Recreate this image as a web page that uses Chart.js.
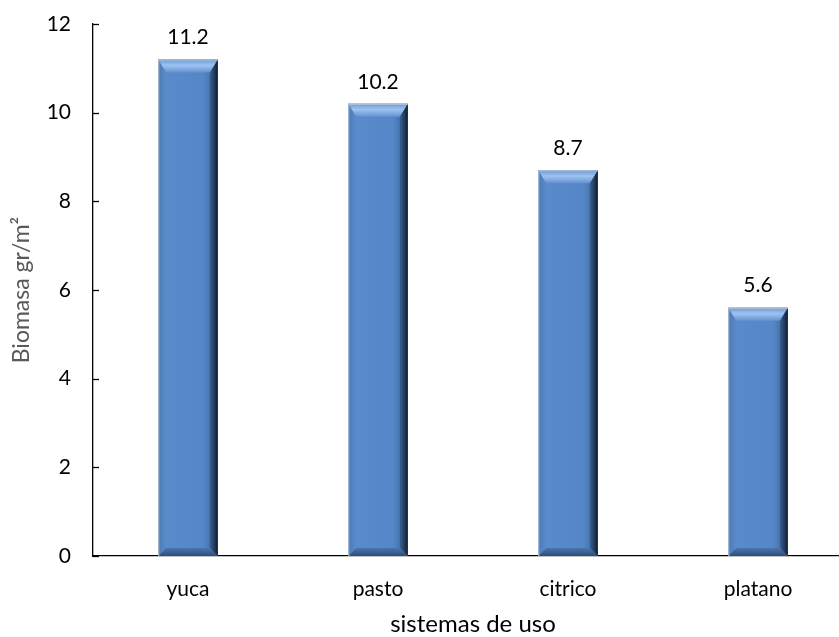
<!DOCTYPE html>
<html>
<head>
<meta charset="utf-8">
<script src="https://cdn.jsdelivr.net/npm/chart.js@4"></script>
<style>
  html, body { margin: 0; padding: 0; background: #fff; overflow: hidden; }
  #wrap { width: 853px; height: 637px; }
</style>
</head>
<body>
<div id="wrap"><canvas id="chart"></canvas></div>
<script>
const categories = ["yuca", "pasto", "citrico", "platano"];
const biomasa = [11.2, 10.2, 8.7, 5.6];
const yTicks = [0, 2, 4, 6, 8, 10, 12];

const FONT = "Lato, 'Open Sans', sans-serif";

// bevel look like the office "circle" bevel
const bevelPlugin = {
  id: "bevel",
  afterDatasetsDraw(chart) {
    const ctx = chart.ctx;
    const meta = chart.getDatasetMeta(0);
    meta.data.forEach((bar, i) => {
      const l = bar.x - bar.width / 2, r = bar.x + bar.width / 2;
      const t = bar.y, b = bar.base;
      const bt = 13, bb = 8, bs = 8;
      ctx.save();
      // body
      let g = ctx.createLinearGradient(l, 0, r, 0);
      g.addColorStop(0, "#5a8bcb");
      g.addColorStop(0.75, "#5587c8");
      g.addColorStop(1, "#3b6398");
      ctx.fillStyle = g;
      ctx.fillRect(l, t, r - l, b - t);
      // left side
      ctx.beginPath();
      ctx.moveTo(l, t); ctx.lineTo(l + bs, t + bt); ctx.lineTo(l + bs, b - bb); ctx.lineTo(l, b);
      ctx.closePath();
      g = ctx.createLinearGradient(l, 0, l + bs, 0);
      g.addColorStop(0, "#4c79b3");
      g.addColorStop(1, "#5a8bcb");
      ctx.fillStyle = g; ctx.fill();
      // right side
      ctx.beginPath();
      ctx.moveTo(r, t); ctx.lineTo(r - bs, t + bt); ctx.lineTo(r - bs, b - bb); ctx.lineTo(r, b);
      ctx.closePath();
      g = ctx.createLinearGradient(r - bs, 0, r, 0);
      g.addColorStop(0, "#3a6294");
      g.addColorStop(0.6, "#223a5c");
      g.addColorStop(1, "#0f1b2e");
      ctx.fillStyle = g; ctx.fill();
      // top
      ctx.beginPath();
      ctx.moveTo(l, t); ctx.lineTo(r, t); ctx.lineTo(r - bs, t + bt); ctx.lineTo(l + bs, t + bt);
      ctx.closePath();
      g = ctx.createLinearGradient(0, t, 0, t + bt);
      g.addColorStop(0, "#6d9ad4");
      g.addColorStop(0.45, "#9cc3f3");
      g.addColorStop(1, "#6492cf");
      ctx.fillStyle = g; ctx.fill();
      // bottom
      ctx.beginPath();
      ctx.moveTo(l, b); ctx.lineTo(r, b); ctx.lineTo(r - bs, b - bb); ctx.lineTo(l + bs, b - bb);
      ctx.closePath();
      g = ctx.createLinearGradient(0, b - bb, 0, b);
      g.addColorStop(0, "#4a77b0");
      g.addColorStop(1, "#2c4d7a");
      ctx.fillStyle = g; ctx.fill();
      // light outline on the left
      ctx.strokeStyle = "#b9c6d6";
      ctx.lineWidth = 1;
      ctx.beginPath();
      ctx.moveTo(l + 0.5, b); ctx.lineTo(l + 0.5, t + 0.5); ctx.lineTo(r, t + 0.5);
      ctx.stroke();
      // value label
      ctx.fillStyle = "#000";
      ctx.font = "21px " + FONT;
      ctx.textAlign = "center";
      ctx.textBaseline = "middle";
      ctx.fillText(biomasa[i].toFixed(1), bar.x, t - 22);
      ctx.restore();
    });
  },
  afterDraw(chart) {
    // inside tick marks on the y axis
    const ctx = chart.ctx, ys = chart.scales.y;
    const x0 = chart.chartArea.left;
    ctx.save();
    ctx.strokeStyle = "#000";
    ctx.lineWidth = 1.3;
    yTicks.forEach(v => {
      const py = Math.round(ys.getPixelForValue(v)) + 0.5;
      ctx.beginPath();
      ctx.moveTo(x0, py); ctx.lineTo(x0 + 6, py);
      ctx.stroke();
    });
    ctx.restore();
  }
};

new Chart(document.getElementById("chart"), {
  type: "bar",
  data: {
    labels: categories,
    datasets: [{
      data: biomasa,
      backgroundColor: "#5587c8",
      barPercentage: 0.313,
      categoryPercentage: 1
    }]
  },
  options: {
    responsive: true,
    maintainAspectRatio: false,
    animation: false,
    events: [],
    layout: { padding: { top: 24, left: 0, right: 0, bottom: 0 } },
    plugins: { legend: { display: false }, tooltip: { enabled: false } },
    scales: {
      x: {
        grid: { display: false, drawTicks: false },
        border: { display: true, color: "#000", width: 1.3 },
        ticks: { color: "#000", font: { family: FONT, size: 21 }, padding: 21 },
        title: { display: true, text: "sistemas de uso", color: "#000",
                 font: { family: FONT, size: 24 }, padding: { top: 0, bottom: -2 } },
        afterFit(s) { s.height = 81; s.paddingLeft = 0; s.paddingRight = 0; }
      },
      y: {
        min: 0, max: 12,
        grid: { display: false, drawTicks: false },
        border: { display: true, color: "#000", width: 1.3 },
        afterBuildTicks(s) { s.ticks = yTicks.map(v => ({ value: v })); },
        ticks: { color: "#000", font: { family: FONT, size: 21 }, padding: 22 },
        title: { display: true, text: "Biomasa gr/m²", color: "#595959",
                 font: { family: FONT, size: 23 }, padding: { top: 8, bottom: 0 } },
        afterFit(s) { s.width = 93; s.paddingTop = 0; s.paddingBottom = 0; }
      }
    }
  },
  plugins: [bevelPlugin]
});
</script>
</body>
</html>
